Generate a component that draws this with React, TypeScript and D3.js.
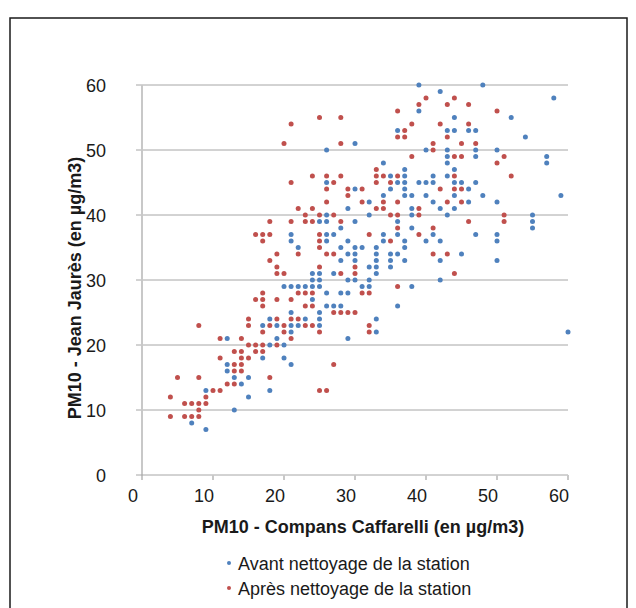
import React, { useEffect, useRef } from "react";
import * as d3 from "d3";

// PM10 Compans Caffarelli (x) vs Jean Jaurès (y), µg/m3
const avant: [number, number][] = [
  [39, 60], [48, 60], [42, 59], [58, 58], [39, 56], [44, 55], [52, 55],
  [36, 53], [43, 53], [44, 53], [46, 53], [47, 53], [54, 52], [30, 51],
  [26, 50], [40, 50], [43, 50], [47, 50], [50, 50], [43, 49], [47, 49],
  [57, 49], [34, 48], [43, 48], [57, 48], [37, 47], [44, 47], [35, 46],
  [37, 46], [41, 46], [43, 46], [26, 45], [36, 45], [37, 45], [39, 45],
  [40, 45], [41, 45], [44, 45], [45, 45], [47, 45], [30, 44], [35, 44],
  [37, 44], [46, 44], [34, 43], [37, 43], [38, 43], [40, 43], [44, 43],
  [48, 43], [59, 43], [32, 42], [41, 42], [46, 42], [50, 42], [29, 41],
  [38, 41], [42, 41], [44, 41], [26, 40], [32, 40], [38, 40], [43, 40],
  [55, 40], [25, 39], [26, 39], [30, 39], [36, 39], [55, 39], [28, 38],
  [38, 38], [55, 38], [21, 37], [26, 37], [27, 37], [34, 37], [36, 37],
  [41, 37], [47, 37], [50, 37], [21, 36], [26, 36], [29, 36], [34, 36],
  [37, 36], [40, 36], [42, 36], [50, 36], [22, 35], [28, 35], [30, 35],
  [31, 35], [33, 35], [37, 35], [29, 34], [30, 34], [33, 34], [35, 34],
  [36, 34], [45, 34], [28, 33], [30, 33], [33, 33], [35, 33], [37, 33],
  [42, 33], [50, 33], [32, 32], [33, 32], [35, 32], [24, 31], [25, 31],
  [27, 31], [33, 31], [24, 30], [25, 30], [29, 30], [30, 30], [32, 30],
  [42, 30], [20, 29], [21, 29], [22, 29], [23, 29], [24, 29], [25, 29],
  [31, 29], [32, 29], [38, 29], [26, 28], [28, 28], [29, 28], [24, 27],
  [26, 26], [27, 26], [28, 26], [36, 26], [21, 25], [25, 25], [18, 24],
  [23, 24], [25, 24], [33, 24], [17, 23], [19, 23], [21, 23], [22, 23],
  [25, 23], [21, 22], [33, 22], [60, 22], [12, 21], [19, 21], [29, 21],
  [18, 20], [20, 20], [17, 18], [20, 18], [12, 17], [21, 17], [12, 16],
  [13, 15], [15, 15], [14, 14], [9, 13], [18, 13], [15, 12], [13, 10],
  [7, 8], [9, 7],
];

const apres: [number, number][] = [
  [40, 58], [44, 58], [39, 57], [43, 57], [46, 57], [36, 56], [50, 56],
  [25, 55], [28, 55], [21, 54], [38, 54], [42, 54], [46, 54], [37, 53],
  [36, 52], [37, 52], [43, 52], [20, 51], [28, 51], [41, 51], [45, 51],
  [47, 51], [41, 50], [38, 49], [44, 49], [45, 49], [51, 49], [50, 48],
  [33, 47], [24, 46], [26, 46], [28, 46], [33, 46], [34, 46], [36, 46],
  [44, 46], [52, 46], [21, 45], [27, 45], [33, 45], [35, 45], [26, 44],
  [29, 44], [31, 44], [42, 44], [44, 44], [45, 44], [29, 43], [26, 42],
  [31, 42], [34, 42], [36, 42], [43, 42], [45, 42], [22, 41], [24, 41],
  [33, 41], [34, 41], [39, 41], [23, 40], [25, 40], [27, 40], [35, 40],
  [36, 40], [39, 40], [51, 40], [18, 39], [21, 39], [23, 39], [24, 39],
  [28, 39], [46, 39], [51, 39], [36, 38], [41, 38], [16, 37], [17, 37],
  [18, 37], [25, 37], [32, 37], [39, 37], [17, 36], [25, 36], [35, 36],
  [25, 35], [19, 34], [22, 34], [26, 34], [27, 34], [41, 34], [43, 34],
  [18, 33], [19, 32], [25, 32], [30, 32], [19, 31], [20, 31], [28, 31],
  [30, 31], [44, 31], [36, 29], [17, 28], [22, 28], [23, 28], [24, 28],
  [31, 28], [32, 28], [16, 27], [17, 27], [19, 27], [21, 27], [17, 26],
  [23, 26], [24, 26], [27, 25], [28, 25], [29, 25], [30, 25], [15, 24],
  [19, 24], [21, 24], [22, 24], [8, 23], [15, 23], [18, 23], [20, 23],
  [23, 23], [24, 23], [32, 23], [17, 22], [20, 22], [25, 22], [32, 22],
  [11, 21], [14, 21], [21, 21], [15, 20], [16, 20], [17, 20], [19, 20],
  [13, 19], [14, 19], [16, 19], [17, 19], [11, 18], [14, 18], [15, 18],
  [13, 17], [14, 17], [27, 17], [13, 16], [14, 16], [5, 15], [8, 15],
  [18, 15], [12, 14], [13, 14], [10, 13], [11, 13], [25, 13], [26, 13],
  [4, 12], [9, 12], [6, 11], [7, 11], [8, 11], [9, 11], [8, 10], [4, 9],
  [6, 9], [7, 9], [8, 9],
];

const xTicks = [0, 10, 20, 30, 40, 50, 60];
const yTicks = [0, 10, 20, 30, 40, 50, 60];

const seriesNames = ["Avant nettoyage de la station", "Après nettoyage de la station"];
const seriesColors = ["#4F81BD", "#C0504D"];

const FONT = "'Liberation Sans', Arial, sans-serif";
const FS = 18;

const App = () => {
  const ref = useRef<SVGSVGElement>(null);

  useEffect(() => {
    document.body.style.margin = "0";
    const svg = d3.select(ref.current);
    svg.selectAll("*").remove();

    const x = d3.scaleLinear().domain([0, 60]).range([142, 568]);
    const y = d3.scaleLinear().domain([0, 60]).range([475, 85]);

    // outer frame
    svg
      .append("rect")
      .attr("x", 10)
      .attr("y", 18)
      .attr("width", 617)
      .attr("height", 610)
      .attr("fill", "none")
      .attr("stroke", "#1a1a1a")
      .attr("stroke-width", 1.5);

    // horizontal gridlines
    svg
      .append("g")
      .selectAll("line")
      .data(yTicks.filter((d) => d > 0))
      .enter()
      .append("line")
      .attr("x1", 136)
      .attr("x2", x(60))
      .attr("y1", (d) => y(d))
      .attr("y2", (d) => y(d))
      .attr("stroke", "#a6a6a6")
      .attr("stroke-width", 1);

    // y axis line
    svg
      .append("line")
      .attr("x1", x(0))
      .attr("x2", x(0))
      .attr("y1", y(60))
      .attr("y2", y(0) + 5)
      .attr("stroke", "#c8c8c8")
      .attr("stroke-width", 2);

    // x axis line + ticks
    svg
      .append("line")
      .attr("x1", 136)
      .attr("x2", x(60))
      .attr("y1", y(0))
      .attr("y2", y(0))
      .attr("stroke", "#a6a6a6")
      .attr("stroke-width", 1);
    svg
      .append("g")
      .selectAll("line")
      .data(xTicks.filter((d) => d > 0))
      .enter()
      .append("line")
      .attr("x1", (d) => x(d))
      .attr("x2", (d) => x(d))
      .attr("y1", y(0))
      .attr("y2", y(0) + 5)
      .attr("stroke", "#c8c8c8")
      .attr("stroke-width", 2);

    // tick labels
    svg
      .append("g")
      .selectAll("text")
      .data(yTicks)
      .enter()
      .append("text")
      .attr("x", 106)
      .attr("y", (d) => y(d) + 6.5)
      .attr("text-anchor", "end")
      .attr("font-family", FONT)
      .attr("font-size", FS)
      .attr("fill", "#1a1a1a")
      .text((d) => d);

    svg
      .append("g")
      .selectAll("text")
      .data(xTicks)
      .enter()
      .append("text")
      .attr("x", (d) => x(d) - 9)
      .attr("y", 501.5)
      .attr("text-anchor", "middle")
      .attr("font-family", FONT)
      .attr("font-size", FS)
      .attr("fill", "#1a1a1a")
      .text((d) => d);

    // axis titles
    svg
      .append("text")
      .attr("x", 363)
      .attr("y", 533)
      .attr("text-anchor", "middle")
      .attr("font-family", FONT)
      .attr("font-size", FS)
      .attr("font-weight", "bold")
      .attr("fill", "#1a1a1a")
      .text("PM10 - Compans Caffarelli (en µg/m3)");

    svg
      .append("text")
      .attr("transform", "translate(81, 288) rotate(-90)")
      .attr("text-anchor", "middle")
      .attr("font-family", FONT)
      .attr("font-size", FS)
      .attr("font-weight", "bold")
      .attr("fill", "#1a1a1a")
      .text("PM10 - Jean Jaurès (en µg/m3)");

    // points
    [avant, apres].forEach((pts, i) => {
      svg
        .append("g")
        .selectAll("circle")
        .data(pts)
        .enter()
        .append("circle")
        .attr("cx", (d) => x(d[0]))
        .attr("cy", (d) => y(d[1]))
        .attr("r", 2.5)
        .attr("fill", seriesColors[i]);
    });

    // legend
    const legend = svg
      .append("g")
      .selectAll("g")
      .data(seriesNames)
      .enter()
      .append("g")
      .attr("transform", (d, i) => `translate(229, ${563 + i * 25})`);
    legend
      .append("circle")
      .attr("r", 2)
      .attr("fill", (d, i) => seriesColors[i]);
    legend
      .append("text")
      .attr("x", 9)
      .attr("y", 6.5)
      .attr("font-family", FONT)
      .attr("font-size", FS)
      .attr("fill", "#1a1a1a")
      .text((d) => d);
  }, []);

  return (
    <svg
      ref={ref}
      width={636}
      height={608}
      style={{ display: "block", background: "#fff" }}
    ></svg>
  );
};

export default App;
